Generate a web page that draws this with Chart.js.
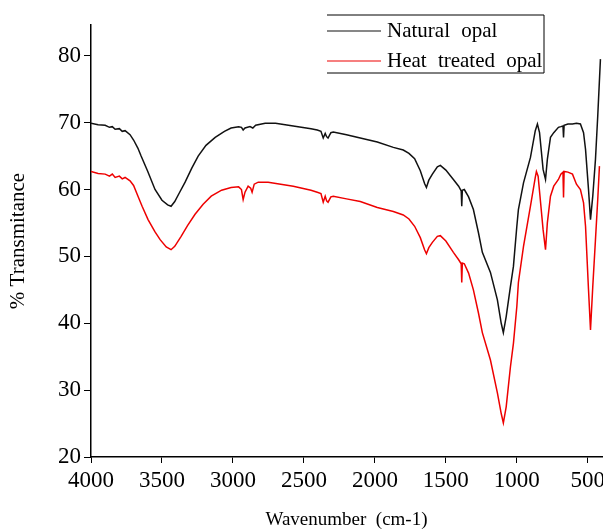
<!DOCTYPE html>
<html>
<head>
<meta charset="utf-8">
<script src="https://cdn.jsdelivr.net/npm/chart.js@4.4.1/dist/chart.umd.min.js"></script>
<style>
    body { margin: 0; background: #fff; }
    #wrap { width: 603px; height: 531px; }
</style>
</head>
<body>
<div id="wrap"><canvas id="ftirChart"></canvas></div>
<script>
const seriesLabels = ['Natural opal', 'Heat treated opal'];

const naturalWn = [4000, 3950, 3900, 3870, 3850, 3830, 3800, 3780, 3760, 3725, 3700, 3670, 3647, 3600, 3549, 3500, 3460, 3436, 3410, 3380, 3337, 3290, 3245, 3190, 3125, 3060, 3013, 2960, 2940, 2928, 2915, 2880, 2860, 2840, 2773, 2700, 2575, 2450, 2406, 2380, 2364, 2350, 2340, 2330, 2310, 2293, 2200, 2103, 1983, 1870, 1800, 1760, 1720, 1680, 1650, 1637, 1620, 1595, 1560, 1539, 1500, 1447, 1410, 1392, 1388, 1384, 1370, 1340, 1306, 1270, 1243, 1186, 1137, 1110, 1095, 1075, 1045, 1024, 1000, 989, 953, 904, 870, 855, 840, 815, 798, 785, 763, 740, 707, 690, 675, 671, 667, 640, 608, 580, 552, 530, 516, 495, 481, 465, 446, 430, 411];
const naturalT = [69.9, 69.7, 69.6, 69.3, 69.4, 69.0, 69.1, 68.7, 68.8, 68.2, 67.4, 66.2, 65.0, 62.7, 60.0, 58.4, 57.7, 57.5, 58.2, 59.4, 61.1, 63.2, 65.0, 66.6, 67.8, 68.7, 69.2, 69.4, 69.3, 68.9, 69.2, 69.4, 69.2, 69.6, 69.9, 69.9, 69.5, 69.1, 68.9, 68.7, 67.7, 68.4, 67.9, 67.7, 68.5, 68.6, 68.2, 67.7, 67.1, 66.3, 65.9, 65.4, 64.6, 62.8, 60.9, 60.3, 61.4, 62.3, 63.4, 63.6, 62.9, 61.5, 60.5, 59.8, 57.5, 59.9, 60.0, 58.9, 57.0, 53.5, 50.6, 47.6, 43.5, 40.0, 38.6, 41.0, 45.5, 48.5, 54.5, 57.0, 61.0, 64.8, 68.8, 69.8, 68.5, 63.0, 61.5, 64.5, 67.8, 68.5, 69.3, 69.4, 69.5, 67.8, 69.6, 69.8, 69.8, 69.9, 69.8, 68.5, 66.0, 60.0, 55.5, 59.0, 64.5, 71.0, 79.5];

const heatWn = [4000, 3950, 3900, 3870, 3850, 3830, 3800, 3780, 3760, 3725, 3700, 3669, 3640, 3598, 3550, 3513, 3470, 3436, 3410, 3365, 3320, 3267, 3210, 3153, 3080, 3013, 2960, 2940, 2928, 2915, 2893, 2875, 2865, 2850, 2822, 2752, 2575, 2450, 2406, 2380, 2364, 2350, 2340, 2330, 2310, 2293, 2200, 2103, 1983, 1870, 1800, 1760, 1720, 1680, 1650, 1637, 1620, 1595, 1560, 1539, 1500, 1447, 1410, 1392, 1388, 1384, 1370, 1340, 1306, 1270, 1243, 1186, 1137, 1110, 1095, 1075, 1045, 1024, 1000, 989, 953, 904, 870, 862, 850, 815, 798, 785, 763, 740, 707, 690, 675, 671, 667, 640, 608, 580, 552, 530, 516, 495, 481, 465, 446, 430, 418];
const heatT = [62.7, 62.4, 62.3, 62.0, 62.3, 61.8, 62.0, 61.6, 61.8, 61.3, 60.6, 59.0, 57.5, 55.5, 53.7, 52.5, 51.4, 51.0, 51.5, 53.0, 54.6, 56.3, 57.8, 59.0, 59.9, 60.3, 60.4, 60.0, 58.5, 59.6, 60.5, 60.2, 59.6, 60.8, 61.1, 61.1, 60.5, 59.9, 59.6, 59.4, 58.1, 59.0, 58.3, 58.1, 58.9, 59.0, 58.6, 58.2, 57.3, 56.7, 56.2, 55.6, 54.5, 52.8, 51.0, 50.4, 51.3, 52.1, 53.0, 53.1, 52.3, 50.6, 49.5, 48.9, 46.1, 49.0, 48.9, 47.5, 45.0, 41.5, 38.6, 34.5, 29.6, 26.5, 25.1, 27.5, 33.5, 37.0, 42.5, 46.1, 51.5, 57.5, 61.8, 62.7, 62.0, 54.0, 51.0, 55.0, 59.0, 60.5, 61.5, 62.3, 62.6, 58.8, 62.7, 62.6, 62.3, 60.8, 60.0, 58.0, 54.5, 45.0, 39.0, 45.5, 52.5, 58.5, 63.5];

const xTicks = [4000, 3500, 3000, 2500, 2000, 1500, 1000, 500];
const yTicks = [20, 30, 40, 50, 60, 70, 80];

const serif = '"Liberation Serif", "Times New Roman", serif';

function toPoints(wn, t) {
    return wn.map((w, i) => ({ x: w, y: t[i] }));
}

// boxed legend in the top right, open on its left side like the original
const boxLegend = {
    id: 'boxLegend',
    afterDraw(chart) {
        const ctx = chart.ctx;
        const left = 327, right = 544, top = 15, bottom = 73;
        ctx.save();
        ctx.strokeStyle = '#000';
        ctx.lineWidth = 1;
        ctx.beginPath();
        ctx.moveTo(left, top);
        ctx.lineTo(right, top);
        ctx.lineTo(right, bottom);
        ctx.lineTo(left, bottom);
        ctx.stroke();
        ctx.font = '21px ' + serif;
        ctx.wordSpacing = '6px';
        ctx.textBaseline = 'middle';
        chart.data.datasets.forEach((ds, i) => {
            const y = 31 + i * 30;
            ctx.strokeStyle = ds.borderColor;
            ctx.lineWidth = 1.2;
            ctx.beginPath();
            ctx.moveTo(left, y);
            ctx.lineTo(381, y);
            ctx.stroke();
            ctx.fillStyle = '#000';
            ctx.fillText(ds.label, 387, y);
        });
        ctx.restore();
    }
};

const ctx = document.getElementById('ftirChart').getContext('2d');

new Chart(ctx, {
    type: 'line',
    data: {
        datasets: [{
            label: seriesLabels[0],
            data: toPoints(naturalWn, naturalT),
            borderColor: '#111',
            borderWidth: 1.5,
            pointRadius: 0,
            fill: false
        }, {
            label: seriesLabels[1],
            data: toPoints(heatWn, heatT),
            borderColor: 'rgb(238, 0, 0)',
            borderWidth: 1.5,
            pointRadius: 0,
            fill: false
        }]
    },
    options: {
        responsive: true,
        maintainAspectRatio: false,
        animation: false,
        layout: { padding: { top: 25, right: 1 } },
        plugins: {
            legend: { display: false },
            tooltip: { enabled: false }
        },
        scales: {
            x: {
                type: 'linear',
                reverse: true,
                min: 400,
                max: 4000,
                afterBuildTicks: s => { s.ticks = xTicks.map(v => ({ value: v })); },
                afterFit: s => {
                    s.height = 74;
                    // let the "500" label run to the canvas edge instead of shrinking the plot
                    s.paddingLeft = 0;
                    s.paddingRight = 0;
                },
                ticks: {
                    color: '#000',
                    font: { family: serif, size: 23 },
                    maxRotation: 0,
                    autoSkip: false,
                    padding: 4,
                    callback: v => String(v)
                },
                grid: { drawOnChartArea: false, color: '#000', tickLength: 6 },
                border: { color: '#000', width: 1.5 },
                title: {
                    display: true,
                    text: 'Wavenumber  (cm-1)',
                    color: '#000',
                    font: { family: serif, size: 19 },
                    padding: { top: 0, bottom: 0 }
                }
            },
            y: {
                min: 20,
                max: 84.6,
                afterBuildTicks: s => { s.ticks = yTicks.map(v => ({ value: v })); },
                afterFit: s => { s.width = 91; },
                ticks: {
                    color: '#000',
                    font: { family: serif, size: 23 },
                    padding: 3,
                    callback: v => String(v)
                },
                grid: { drawOnChartArea: false, color: '#000', tickLength: 7 },
                border: { color: '#000', width: 1.5 },
                title: {
                    display: true,
                    text: '% Transmitance',
                    color: '#000',
                    font: { family: serif, size: 21 },
                    padding: { top: 6, bottom: 0 }
                }
            }
        }
    },
    plugins: [boxLegend]
});
</script>
</body>
</html>
